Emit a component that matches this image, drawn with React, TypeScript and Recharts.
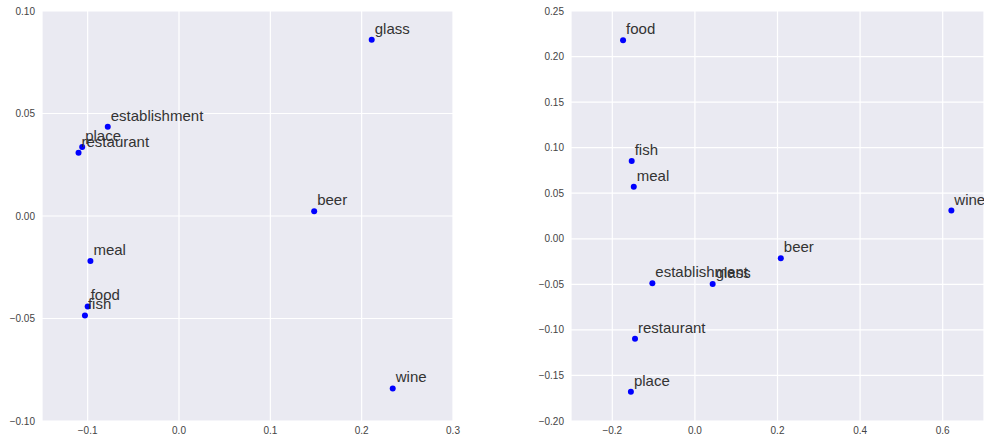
import { ScatterChart, Scatter, XAxis, YAxis, CartesianGrid } from "recharts"

const words = ["glass", "establishment", "place", "restaurant", "beer", "meal", "food", "fish", "wine"]

// first projection
const leftX = [0.211, -0.078, -0.106, -0.110, 0.148, -0.097, -0.100, -0.103, 0.234]
const leftY = [0.086, 0.0435, 0.0337, 0.0308, 0.0023, -0.022, -0.0441, -0.0485, -0.0841]

// second projection
const rightX = [0.043, -0.103, -0.155, -0.145, 0.208, -0.148, -0.174, -0.153, 0.621]
const rightY = [-0.0496, -0.0489, -0.1678, -0.1097, -0.0214, 0.0572, 0.2179, 0.0854, 0.0309]

const leftXTicks = [-0.1, 0.0, 0.1, 0.2, 0.3]
const leftYTicks = [-0.1, -0.05, 0.0, 0.05, 0.1]
const rightXTicks = [-0.2, 0.0, 0.2, 0.4, 0.6]
const rightYTicks = [-0.2, -0.15, -0.1, -0.05, 0.0, 0.05, 0.1, 0.15, 0.2, 0.25]

const toPoints = (xs: number[], ys: number[]) =>
  words.map((name, i) => ({ name, x: xs[i], y: ys[i] }))

const fmt = (digits: number) => (v: number) => v.toFixed(digits).replace("-", "\u2212")

const tickStyle = { fontSize: 10, fill: "#444", fontFamily: "Liberation Sans, Arial, sans-serif" }

const WordDot = (props: any) => {
  const { cx, cy, payload } = props
  return (
    <g>
      <circle cx={cx} cy={cy} r={3} fill="#0000ff" />
      <text
        x={cx + 3}
        y={cy - 6}
        fontSize={15}
        fill="#333"
        fontFamily="Liberation Sans, Arial, sans-serif"
      >
        {payload.name}
      </text>
    </g>
  )
}

type PanelProps = {
  data: { name: string; x: number; y: number }[]
  xDomain: [number, number]
  yDomain: [number, number]
  xTicks: number[]
  yTicks: number[]
  width: number
  yWidth: number
  rightMargin: number
}

function Panel({ data, xDomain, yDomain, xTicks, yTicks, width, yWidth, rightMargin }: PanelProps) {
  return (
    <ScatterChart width={width} height={441} margin={{ top: 11, right: rightMargin, bottom: 0, left: 0 }}>
      <CartesianGrid fill="#eaeaf2" stroke="#ffffff" strokeWidth={1.2} />
      <XAxis
        type="number"
        dataKey="x"
        domain={xDomain}
        ticks={xTicks}
        allowDataOverflow
        axisLine={false}
        tickLine={false}
        tickSize={0}
        tickMargin={6}
        height={20}
        tick={tickStyle}
        tickFormatter={fmt(1)}
        interval={0}
      />
      <YAxis
        type="number"
        dataKey="y"
        domain={yDomain}
        ticks={yTicks}
        allowDataOverflow
        axisLine={false}
        tickLine={false}
        tickSize={0}
        tickMargin={7}
        width={yWidth}
        tick={tickStyle}
        tickFormatter={fmt(2)}
        interval={0}
      />
      <Scatter data={data} shape={WordDot} isAnimationActive={false} />
    </ScatterChart>
  )
}

export default function App() {
  return (
    <div style={{ position: "absolute", left: 0, top: 0, width: 985, height: 441, background: "#fff", overflow: "hidden" }}>
      <div style={{ position: "absolute", left: 0, top: 0 }}>
        <Panel
          data={toPoints(leftX, leftY)}
          xDomain={[-0.15, 0.3]}
          yDomain={[-0.1, 0.1]}
          xTicks={leftXTicks}
          yTicks={leftYTicks}
          width={470}
          yWidth={42}
          rightMargin={17}
        />
      </div>
      <div style={{ position: "absolute", left: 520, top: 0 }}>
        <Panel
          data={toPoints(rightX, rightY)}
          xDomain={[-0.3, 0.7]}
          yDomain={[-0.2, 0.25]}
          xTicks={rightXTicks}
          yTicks={rightYTicks}
          width={465}
          yWidth={51}
          rightMargin={1}
        />
      </div>
    </div>
  )
}
